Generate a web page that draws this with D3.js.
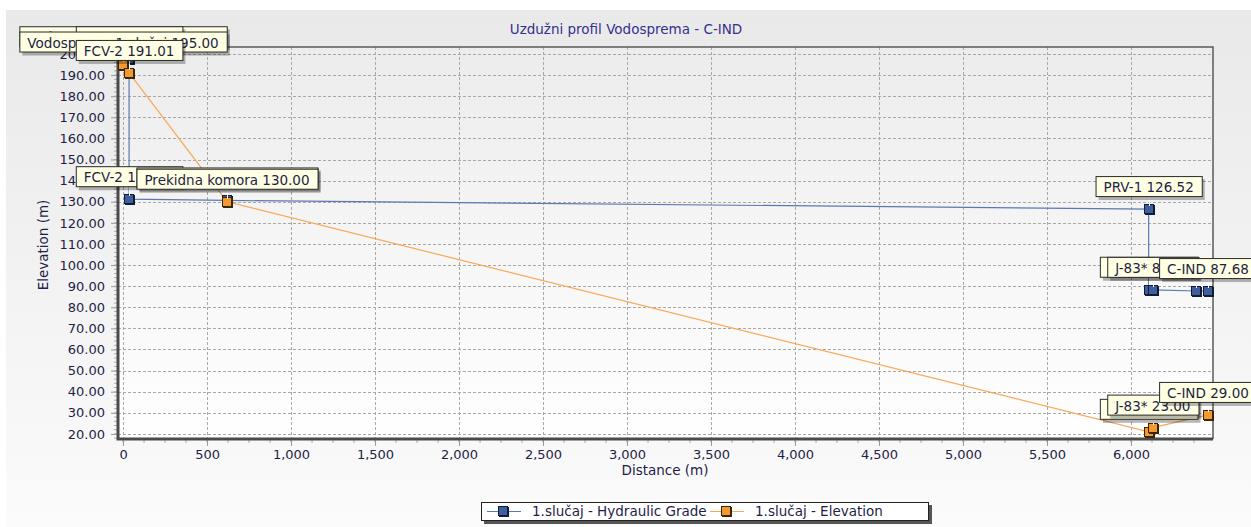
<!DOCTYPE html>
<html>
<head>
<meta charset="utf-8">
<script src="https://cdn.jsdelivr.net/npm/d3@7"></script>
<style>
  body { margin: 0; background: #fff; }
  svg { display: block; font-family: "DejaVu Sans", Verdana, sans-serif; }
</style>
</head>
<body>
<svg id="chart" width="1251" height="527"></svg>
<script>
// Data
var gradeDistance = [0, 36, 36, 619, 6105, 6105, 6130, 6387, 6458];
var gradeValue = [197.5, 197.5, 131.2, 130.6, 126.52, 88.3, 88.25, 87.7, 87.68];
var gradeNames = ["Vodosprema 1.slučaj", "FCV-2", "FCV-2", "Prekidna komora", "PRV-1", "PRV-1", "J-83*", null, "C-IND"];

var elevDistance = [0, 36, 619, 6105, 6130, 6458];
var elevValue = [195.0, 191.01, 130.0, 21.0, 23.0, 29.0];
var elevNames = ["Vodosprema 1.slučaj", "FCV-2", "Prekidna komora", "PRV-1", "J-83*", "C-IND"];

var xTicks = [0, 500, 1000, 1500, 2000, 2500, 3000, 3500, 4000, 4500, 5000, 5500, 6000];
var yTicks = [20, 30, 40, 50, 60, 70, 80, 90, 100, 110, 120, 130, 140, 150, 160, 170, 180, 190, 200];

var seriesNames = ["1.slučaj - Hydraulic Grade", "1.slučaj - Elevation"];

var W = 1251, H = 527;
var plot = {left: 118, right: 1213, top: 47, bottom: 439};
var fontSize = "13.5px";

var svg = d3.select("#chart");
var defs = svg.append("defs");

// backgrounds
var pg = defs.append("linearGradient").attr("id", "panelGrad").attr("x1", 0).attr("y1", 0).attr("x2", 0).attr("y2", 1);
pg.append("stop").attr("offset", "0%").attr("stop-color", "#e9e9e9");
pg.append("stop").attr("offset", "100%").attr("stop-color", "#fbfbfb");
var ag = defs.append("linearGradient").attr("id", "plotGrad").attr("x1", 0).attr("y1", 0).attr("x2", 0).attr("y2", 1);
ag.append("stop").attr("offset", "0%").attr("stop-color", "#ececec");
ag.append("stop").attr("offset", "100%").attr("stop-color", "#ffffff");

svg.append("rect").attr("x", 6).attr("y", 10).attr("width", W - 6).attr("height", H - 10)
    .attr("fill", "url(#panelGrad)");
svg.append("rect").attr("x", plot.left).attr("y", plot.top)
    .attr("width", plot.right - plot.left).attr("height", plot.bottom - plot.top)
    .attr("fill", "url(#plotGrad)");

var xScale = d3.scaleLinear().domain([-30, 6488]).range([plot.left, plot.right]);
var yScale = d3.scaleLinear().domain([17.6, 203.3]).range([plot.bottom, plot.top]);

// grid
var grid = svg.append("g").attr("stroke", "#a8a8a8").attr("stroke-dasharray", "3,2").attr("stroke-width", 1);
grid.selectAll(".vg").data(xTicks).join("line")
    .attr("x1", d => Math.round(xScale(d)) + 0.5).attr("x2", d => Math.round(xScale(d)) + 0.5)
    .attr("y1", plot.top).attr("y2", plot.bottom);
grid.selectAll(".hg").data(yTicks).join("line")
    .attr("y1", d => Math.round(yScale(d)) + 0.5).attr("y2", d => Math.round(yScale(d)) + 0.5)
    .attr("x1", plot.left).attr("x2", plot.right);

// axes
var textColor = "#1e1e46";
var xAxis = d3.axisBottom(xScale).tickValues(xTicks).tickFormat(d3.format(",")).tickSize(6);
var xg = svg.append("g").attr("transform", "translate(0," + (plot.bottom + 1) + ")").call(xAxis);
var yAxis = d3.axisLeft(yScale).tickValues(yTicks).tickFormat(d3.format(".2f")).tickSize(6);
var yg = svg.append("g").attr("transform", "translate(" + (plot.left - 1) + ",0)").call(yAxis);
[xg, yg].forEach(function(g) {
  g.select(".domain").remove();
  g.selectAll(".tick line").attr("stroke", "#999");
  g.selectAll(".tick text").attr("fill", textColor).style("font-size", "13px")
      .style("font-family", "'DejaVu Sans', Verdana, sans-serif");
});
xg.selectAll(".tick text").attr("dy", "0.8em");
yg.selectAll(".tick text").attr("x", -12);

// minor ticks
var xMinor = d3.range(0, 6488, 125);
svg.append("g").selectAll("line").data(xMinor).join("line")
    .attr("x1", d => xScale(d)).attr("x2", d => xScale(d))
    .attr("y1", plot.bottom + 1).attr("y2", plot.bottom + 4)
    .attr("stroke", "#aaa");
var yMinor = d3.range(18, 203, 2);
svg.append("g").selectAll("line").data(yMinor).join("line")
    .attr("y1", d => yScale(d)).attr("y2", d => yScale(d))
    .attr("x1", plot.left - 4).attr("x2", plot.left - 1)
    .attr("stroke", "#aaa");

// plot frame: light top/right, heavy left/bottom
svg.append("path")
    .attr("d", "M" + plot.left + "," + plot.top + "H" + plot.right + "V" + plot.bottom)
    .attr("fill", "none").attr("stroke", "#5a5a5a").attr("stroke-width", 1.5);
svg.append("path")
    .attr("d", "M" + plot.left + "," + plot.top + "V" + plot.bottom + "H" + plot.right)
    .attr("fill", "none").attr("stroke", "#4a4a4a").attr("stroke-width", 3);

// title and axis titles
svg.append("text").attr("x", 626).attr("y", 34).attr("text-anchor", "middle")
    .attr("fill", "#35308e").style("font-size", fontSize)
    .text("Uzdužni profil Vodosprema - C-IND");
svg.append("text").attr("transform", "translate(48,245) rotate(-90)").attr("text-anchor", "middle")
    .attr("fill", textColor).style("font-size", fontSize).text("Elevation (m)");
svg.append("text").attr("x", 665).attr("y", 475).attr("text-anchor", "middle")
    .attr("fill", textColor).style("font-size", fontSize).text("Distance (m)");

// series
var series = [
  {dist: gradeDistance, val: gradeValue, names: gradeNames, line: "#5a78b4", fill: "#3f5e9e", edge: "#0f1c36"},
  {dist: elevDistance, val: elevValue, names: elevNames, line: "#f7a858", fill: "#f2992f", edge: "#3b2508"}
];

var lineGen = d3.line().x(d => xScale(d[0])).y(d => yScale(d[1]));

series.forEach(function(s) {
  var pts = s.dist.map((d, i) => [d, s.val[i]]);
  svg.append("path").attr("d", lineGen(pts)).attr("fill", "none")
      .attr("stroke", s.line).attr("stroke-width", 1.2);
});

function marker(g, x, y, s) {
  g.append("rect").attr("x", x - 4).attr("y", y - 4).attr("width", 10).attr("height", 10)
      .attr("fill", s.edge);
  g.append("rect").attr("x", x - 4.5).attr("y", y - 4.5).attr("width", 9).attr("height", 9)
      .attr("fill", s.fill).attr("stroke", s.edge).attr("stroke-width", 1);
}

series.forEach(function(s) {
  var g = svg.append("g");
  s.dist.forEach(function(d, i) {
    var x = Math.round(xScale(d)), y = Math.round(yScale(s.val[i]));
    marker(g, x, y, s);
    g.append("line").attr("x1", x + 0.5).attr("x2", x + 0.5).attr("y1", y - 12).attr("y2", y - 3)
        .attr("stroke", "#fff").attr("stroke-width", 1);
  });
});

// point labels (blue first, orange on top)
series.forEach(function(s) {
  var g = svg.append("g");
  s.dist.forEach(function(d, i) {
    if (!s.names[i]) return;
    var x = xScale(d), y = yScale(s.val[i]);
    var lg = g.append("g");
    var t = lg.append("text").attr("fill", textColor).style("font-size", fontSize)
        .attr("text-anchor", "middle").attr("x", x).attr("y", y - 17)
        .text(s.names[i] + " " + s.val[i].toFixed(2));
    var w = t.node().getComputedTextLength() + 16;
    var bx = x - w / 2, by = y - 33;
    lg.insert("rect", "text").attr("x", bx + 3).attr("y", by + 3).attr("width", w).attr("height", 21)
        .attr("fill", "#000").attr("opacity", 0.28);
    lg.insert("rect", "text").attr("x", bx + 0.5).attr("y", by + 0.5).attr("width", w).attr("height", 20)
        .attr("fill", "#ffffe3").attr("stroke", "#2a2a2a").attr("stroke-width", 1);
  });
});

// legend
var leg = svg.append("g");
leg.append("rect").attr("x", 484).attr("y", 505).attr("width", 448).attr("height", 19).attr("fill", "#555");
leg.append("rect").attr("x", 481.5).attr("y", 502.5).attr("width", 447).attr("height", 18)
    .attr("fill", "#fff").attr("stroke", "#222");
var legX = [487, 710];
var textX = [532, 755];
series.forEach(function(s, i) {
  leg.append("line").attr("x1", legX[i]).attr("x2", legX[i] + 34).attr("y1", 511.5).attr("y2", 511.5)
      .attr("stroke", s.line).attr("stroke-width", 1.2);
  marker(leg, legX[i] + 16, 511, s);
  leg.append("text").attr("x", textX[i]).attr("y", 516).attr("fill", textColor)
      .style("font-size", fontSize).text(seriesNames[i]);
});
</script>
</body>
</html>
